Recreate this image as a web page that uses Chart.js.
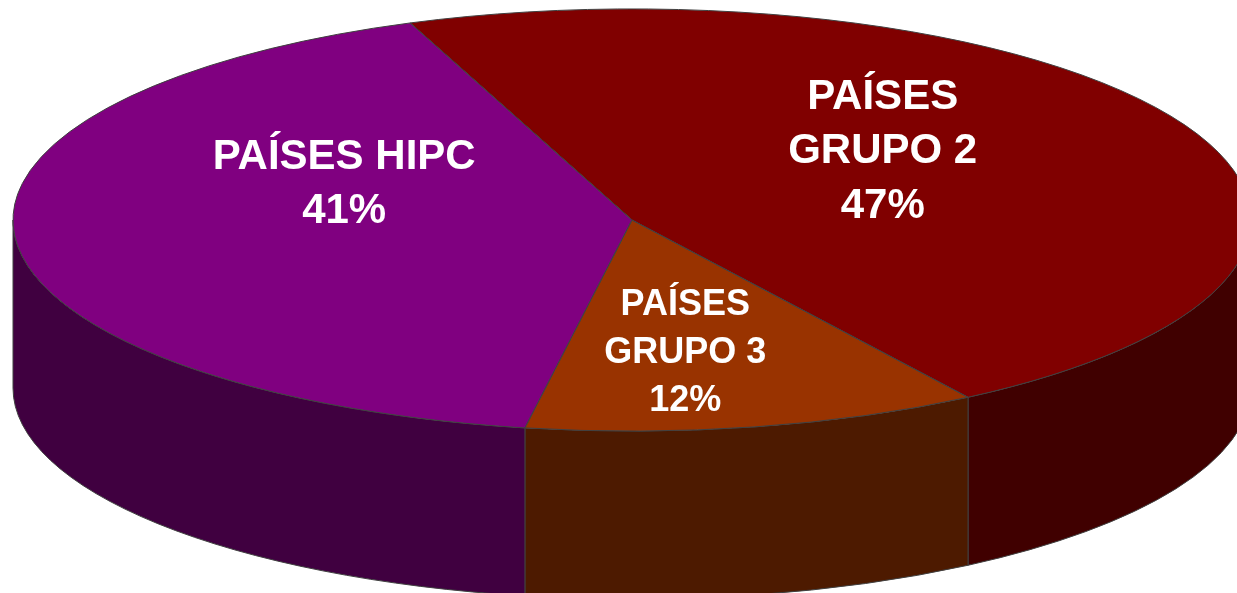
<!DOCTYPE html>
<html>
<head>
<meta charset="utf-8">
<script src="https://cdn.jsdelivr.net/npm/chart.js@4.4.1/dist/chart.umd.min.js"></script>
<style>
  html, body { margin: 0; padding: 0; background: #fff; }
  #wrap { width: 1237px; height: 593px; overflow: hidden; }
</style>
</head>
<body>
<div id="wrap"><canvas id="pie3d" width="1237" height="593"></canvas></div>
<script>
const categories = [['PAÍSES', 'GRUPO 2'], ['PAÍSES', 'GRUPO 3'], ['PAÍSES HIPC']];
const shares = [46.7, 11.9, 41.4];
const topColors = ['#800000', '#993300', '#800080'];
const sideColors = ['#400000', '#4d1a00', '#400040'];

const TILT = 0.341;   // vertical squash of the disc
const DEPTH = 168;    // thickness of the disc in px
const EDGE = '#404040';

// where each label sits, relative to the pie centre (fractions of the radii)
const labelPlace = [
  { dx: 0.405, dy: -0.268, size: 42, lh: 54.5 },
  { dx: 0.086, dy: 0.679, size: 36, lh: 48 },
  { dx: -0.465, dy: -0.114, size: 42, lh: 53.5 }
];

function squash(ctx, a) {
  ctx.translate(a.x, a.y);
  ctx.scale(1, TILT);
  ctx.translate(-a.x, -a.y);
}

const pie3d = {
  id: 'pie3d',
  beforeDatasetsDraw(chart) {
    const ctx = chart.ctx;
    const arcs = chart.getDatasetMeta(0).data;
    ctx.save();
    ctx.lineWidth = 1;
    ctx.strokeStyle = EDGE;
    // side walls, only the front half of the disc shows
    arcs.forEach((a, i) => {
      const ry = a.outerRadius * TILT;
      for (let k = -1; k <= 1; k++) {
        const s = Math.max(a.startAngle, k * 2 * Math.PI);
        const e = Math.min(a.endAngle, k * 2 * Math.PI + Math.PI);
        if (e <= s) continue;
        ctx.beginPath();
        ctx.ellipse(a.x, a.y, a.outerRadius, ry, 0, s, e);
        ctx.ellipse(a.x, a.y + DEPTH, a.outerRadius, ry, 0, e, s, true);
        ctx.closePath();
        ctx.fillStyle = sideColors[i];
        ctx.fill();
        ctx.stroke();
      }
    });
    ctx.restore();
    // top face gets drawn by chart.js under this transform
    ctx.save();
    squash(ctx, arcs[0]);
  },
  afterDatasetsDraw(chart) {
    const ctx = chart.ctx;
    ctx.restore();
    const arcs = chart.getDatasetMeta(0).data;

    ctx.save();
    ctx.lineWidth = 1;
    ctx.strokeStyle = EDGE;
    arcs.forEach(a => {
      ctx.save();
      squash(ctx, a);
      ctx.beginPath();
      ctx.moveTo(a.x, a.y);
      ctx.arc(a.x, a.y, a.outerRadius, a.startAngle, a.endAngle);
      ctx.closePath();
      ctx.restore();
      ctx.stroke();
    });

    const total = shares.reduce((s, v) => s + v, 0);
    ctx.fillStyle = '#fff';
    ctx.textAlign = 'center';
    ctx.textBaseline = 'alphabetic';
    arcs.forEach((a, i) => {
      const pl = labelPlace[i];
      const lines = [].concat(categories[i], Math.round(shares[i] / total * 100) + '%');
      const x = a.x + pl.dx * a.outerRadius;
      const y = a.y + pl.dy * a.outerRadius * TILT;
      ctx.font = 'bold ' + pl.size + 'px "Liberation Sans", Arial, sans-serif';
      const y0 = y - (lines.length - 1) * pl.lh / 2;
      lines.forEach((t, j) => ctx.fillText(t, x, y0 + j * pl.lh));
    });
    ctx.restore();
  }
};

new Chart(document.getElementById('pie3d'), {
  type: 'pie',
  data: {
    labels: categories,
    datasets: [{
      data: shares,
      backgroundColor: topColors,
      borderWidth: 0,
      radius: 619,
      rotation: -21,
      clip: false
    }]
  },
  options: {
    responsive: false,
    animation: false,
    events: [],
    rotation: -21,
    layout: { padding: { left: 27, right: 0, top: 0, bottom: 153 } },
    plugins: {
      legend: { display: false },
      tooltip: { enabled: false }
    }
  },
  plugins: [pie3d]
});
</script>
</body>
</html>
